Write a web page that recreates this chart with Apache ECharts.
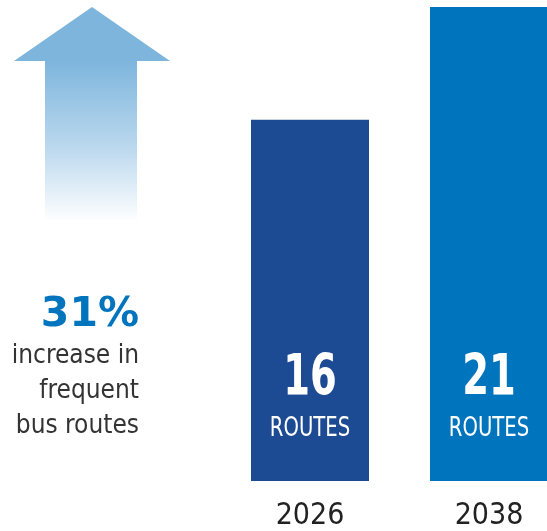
<!DOCTYPE html>
<html>
<head>
<meta charset="utf-8">
<script src="https://cdn.jsdelivr.net/npm/echarts@6/dist/echarts.min.js"></script>
<style>
  html, body { margin: 0; padding: 0; background: #fff; }
  #chart { width: 547px; height: 531px; }
</style>
</head>
<body>
<div id="chart"></div>
<script>
// Frequent bus routes by plan year
const years = ['2026', '2038'];
const routes = [16, 21];
const barColors = ['#1C4A93', '#0074BC'];
const unitLabel = 'ROUTES';
const captionLines = ['increase in', 'frequent', 'bus routes'];

// Percentage growth between the two years
const growthPct = Math.round((routes[1] - routes[0]) / routes[0] * 100);

const chart = echarts.init(document.getElementById('chart'), null, { renderer: 'canvas' });

// Condensed white value + unit labels, anchored to each bar's base
function renderBarLabel(params, api) {
  const base = api.coord([api.value(0), 0]);
  return {
    type: 'group',
    children: [
      {
        type: 'text',
        x: base[0], y: base[1] - 101,
        scaleX: 0.75,
        style: {
          text: String(api.value(1)),
          align: 'center',
          verticalAlign: 'middle',
          fill: '#fff',
          font: 'bold 57px "DejaVu Sans Condensed"'
        }
      },
      {
        type: 'text',
        x: base[0], y: base[1] - 52,
        scaleX: 0.84,
        style: {
          text: unitLabel,
          align: 'center',
          verticalAlign: 'middle',
          fill: '#fff',
          font: '26px "DejaVu Sans Condensed"'
        }
      }
    ]
  };
}

chart.setOption({
  animation: false,
  backgroundColor: '#ffffff',
  grid: { left: 310, right: 58, top: 7, bottom: 48, containLabel: false },
  xAxis: {
    type: 'category',
    data: years,
    boundaryGap: false,
    axisLine: { show: false },
    axisTick: { show: false },
    axisLabel: {
      margin: 20,
      color: '#222',
      fontFamily: 'DejaVu Sans Condensed',
      fontSize: 30,
      lineHeight: 30
    }
  },
  yAxis: {
    type: 'value',
    min: 0,
    max: 21,
    show: false,
    splitLine: { show: false }
  },
  series: [
    {
      type: 'bar',
      barWidth: 118,
      clip: false,
      data: routes.map((v, i) => ({ value: v, itemStyle: { color: barColors[i] } }))
    },
    {
      type: 'custom',
      clip: false,
      data: routes.map((v, i) => [i, v]),
      encode: { x: 0, y: 1 },
      renderItem: renderBarLabel,
      z: 5
    }
  ],
  graphic: [
    {
      type: 'polygon',
      shape: { points: [[92, 7], [170, 61], [14, 61]] },
      style: { fill: '#7DB5DD' }
    },
    {
      type: 'rect',
      shape: { x: 45, y: 60, width: 92, height: 162 },
      style: {
        fill: new echarts.graphic.LinearGradient(0, 0, 0, 1, [
          { offset: 0, color: '#7DB5DD' },
          { offset: 0.55, color: '#BCD9EE' },
          { offset: 1, color: '#ffffff' }
        ])
      }
    },
    {
      type: 'text',
      style: {
        text: growthPct + '%',
        x: 139, y: 315,
        align: 'right',
        verticalAlign: 'middle',
        fill: '#0074BC',
        font: 'bold 41px "DejaVu Sans"'
      }
    },
    {
      type: 'text',
      style: {
        text: captionLines.join('\n'),
        x: 139, y: 339,
        align: 'right',
        verticalAlign: 'top',
        fill: '#333',
        font: '26px "DejaVu Sans Condensed"',
        lineHeight: 35
      }
    }
  ]
});
</script>
</body>
</html>
